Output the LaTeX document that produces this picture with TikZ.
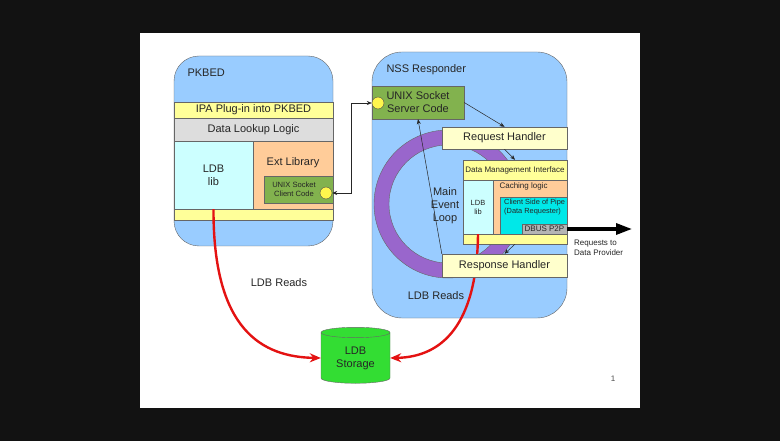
\documentclass[tikz,border=0pt]{standalone}
\usepackage{fontspec}
\setmainfont{Liberation Sans}
\usetikzlibrary{shapes}
\usetikzlibrary{arrows.meta}

\definecolor{pkBlue}{RGB}{153,204,255}
\definecolor{bandYellow}{RGB}{255,255,153}
\definecolor{handlerYellow}{RGB}{255,255,204}
\definecolor{lookupGray}{RGB}{221,221,221}
\definecolor{libCyan}{RGB}{204,255,255}
\definecolor{extOrange}{RGB}{255,204,153}
\definecolor{socketGreen}{RGB}{130,178,78}
\definecolor{ringPurple}{RGB}{153,102,204}
\definecolor{pipeCyan}{RGB}{0,232,232}
\definecolor{dbusGray}{RGB}{180,180,180}
\definecolor{storageGreen}{RGB}{51,221,51}
\definecolor{readRed}{RGB}{228,18,18}

\begin{document}
\begin{tikzpicture}
[x=1pt,y=-1pt,thin,font=\fontsize{11}{13}\selectfont,%
  boxDecorate/.style={draw=black!60,rectangle,inner sep=0pt,text=black!85},%
  smallDecorate/.style={font=\fontsize{8}{9.5}\selectfont,text=black!85},%
  dotDecorate/.style={shape=circle,draw=black!70,fill=yellow!70,minimum size=12pt,inner sep=0pt},%
  lineDecorate/.style={draw=black!85,line width=0.5pt,-{Stealth[length=5pt,width=4pt]}},%
  readDecorate/.style={draw=readRed,line width=2.4pt,-{Stealth[length=11pt,width=9pt]}},%
  labelDecorate/.style={text=black!85,align=center}]
%% slide
\fill[black!93] (0,0) rectangle (780,441);
\fill[white] (140,33) rectangle (640,408);
\useasboundingbox (0,0) rectangle (780,441);
%% PKBED
\node[boxDecorate,fill=pkBlue,rounded corners=25pt,minimum width=159,minimum height=190] (pkbed) at (253.5,151) {};
\node[labelDecorate,anchor=west] (pkbedlabel) at (184,73) {PKBED};
\foreach \nodename/\y/\h/\colour/\txt in {
  ipa/110/16/bandYellow/IPA Plug-in into PKBED,
  lookup/129.5/23/lookupGray/Data Lookup Logic,
  pkband/214.5/11/bandYellow/}
{
  \node[boxDecorate,fill=\colour,minimum width=159,minimum height=\h] (\nodename) at (253.5,\y) {\txt};
}
\node[boxDecorate,fill=libCyan,minimum width=79,minimum height=68,align=center] (ldblib) at (213.5,175) {LDB\\lib};
\node[boxDecorate,fill=extOrange,minimum width=80,minimum height=68] (extlib) at (293,175) {};
\node[labelDecorate] (extlabel) at (293,163) {Ext Library};
\node[boxDecorate,fill=socketGreen,minimum width=69,minimum height=27] (client) at (298.5,189.5) {};
\node[smallDecorate,align=center,font=\fontsize{7.6}{9}\selectfont] (clientlabel) at (294,189.5) {UNIX Socket\\Client Code};
\node[dotDecorate] (clientdot) at (326,193) {};
%% NSS responder
\node[boxDecorate,fill=pkBlue,rounded corners=30pt,minimum width=195,minimum height=266] (nss) at (469.5,185) {};
\node[labelDecorate,anchor=west] (nsslabel) at (383,70) {NSS Responder};
\fill[ringPurple,draw=black!60,even odd rule] (448,204) circle[radius=74] (448,204) circle[radius=59];
\node[boxDecorate,fill=socketGreen,minimum width=92,minimum height=33,align=center] (server) at (418,102.5) {UNIX Socket\\Server Code};
\node[dotDecorate] (serverdot) at (378,103) {};
\node[boxDecorate,fill=handlerYellow,minimum width=125,minimum height=22] (request) at (504.5,138) {Request Handler};
\node[labelDecorate] (looplabel) at (445,206) {Main\\Event\\Loop};
%% data management interface
\node[boxDecorate,fill=bandYellow,minimum width=104,minimum height=20,smallDecorate] (dmi) at (515,170) {Data Management Interface};
\node[boxDecorate,fill=libCyan,minimum width=30,minimum height=54,smallDecorate,align=center,font=\fontsize{7.5}{9}\selectfont] (ldbsmall) at (478,207) {LDB\\lib};
\node[boxDecorate,fill=extOrange,minimum width=74,minimum height=54] (caching) at (530,207) {};
\node[smallDecorate,anchor=west] (cachinglabel) at (496,186.5) {Caching logic};
\node[boxDecorate,fill=pipeCyan,minimum width=67,minimum height=37] (pipe) at (533.5,215.5) {};
\node[smallDecorate,anchor=north west,align=left,font=\fontsize{7.4}{9}\selectfont,inner sep=0pt] (pipelabel) at (504,199) {Client Side of Pipe\\(Data Requester)};
\node[boxDecorate,fill=dbusGray,minimum width=45,minimum height=10,smallDecorate] (dbus) at (544.5,229) {DBUS P2P};
\node[boxDecorate,fill=bandYellow,minimum width=104,minimum height=10] (dmiband) at (515,239) {};
%% reads
\node[labelDecorate] (leftreads) at (279,283) {LDB Reads};
\node[labelDecorate] (rightreads) at (436,296) {LDB Reads};
\node[shape=cylinder,shape border rotate=90,aspect=0.27,draw=black!60,fill=storageGreen,minimum width=69,minimum height=56,align=center,inner sep=0pt,text=black!85] (storage) at (355.5,358) {LDB\\Storage};
\draw[readDecorate] (ldblib.south) .. controls (213,330) and (262,357) .. (storage.west);
\draw[readDecorate] (ldbsmall.south) .. controls (477,325) and (442,357) .. (storage.east);
\node[boxDecorate,fill=handlerYellow,minimum width=125,minimum height=23] (response) at (504.5,265.5) {Response Handler};
%% connectors
\draw[lineDecorate,{Stealth[length=5pt,width=4pt]}-{Stealth[length=5pt,width=4pt]}] (clientdot.east) -- ++(19,0) |- (serverdot.west);
\draw[lineDecorate] (server.east) -- (request.north);
\draw[lineDecorate] (request.south) -- (dmi.north);
\draw[lineDecorate] (dmiband.south) -- (response.north);
\draw[lineDecorate] (response.north west) -- (server.south);
\coordinate (provider) at (632,229);
\draw[line width=3.2pt,-{Triangle[length=16pt,width=11pt]}] (dbus.east) -- (provider);
\node[smallDecorate,anchor=north west,align=left,inner sep=0pt] (providerlabel) at (574,240) {Requests to\\Data Provider};
\node[font=\rmfamily\fontsize{8}{9}\selectfont,text=black!70] (pagenum) at (613,379) {1};
\end{tikzpicture}
\end{document}
